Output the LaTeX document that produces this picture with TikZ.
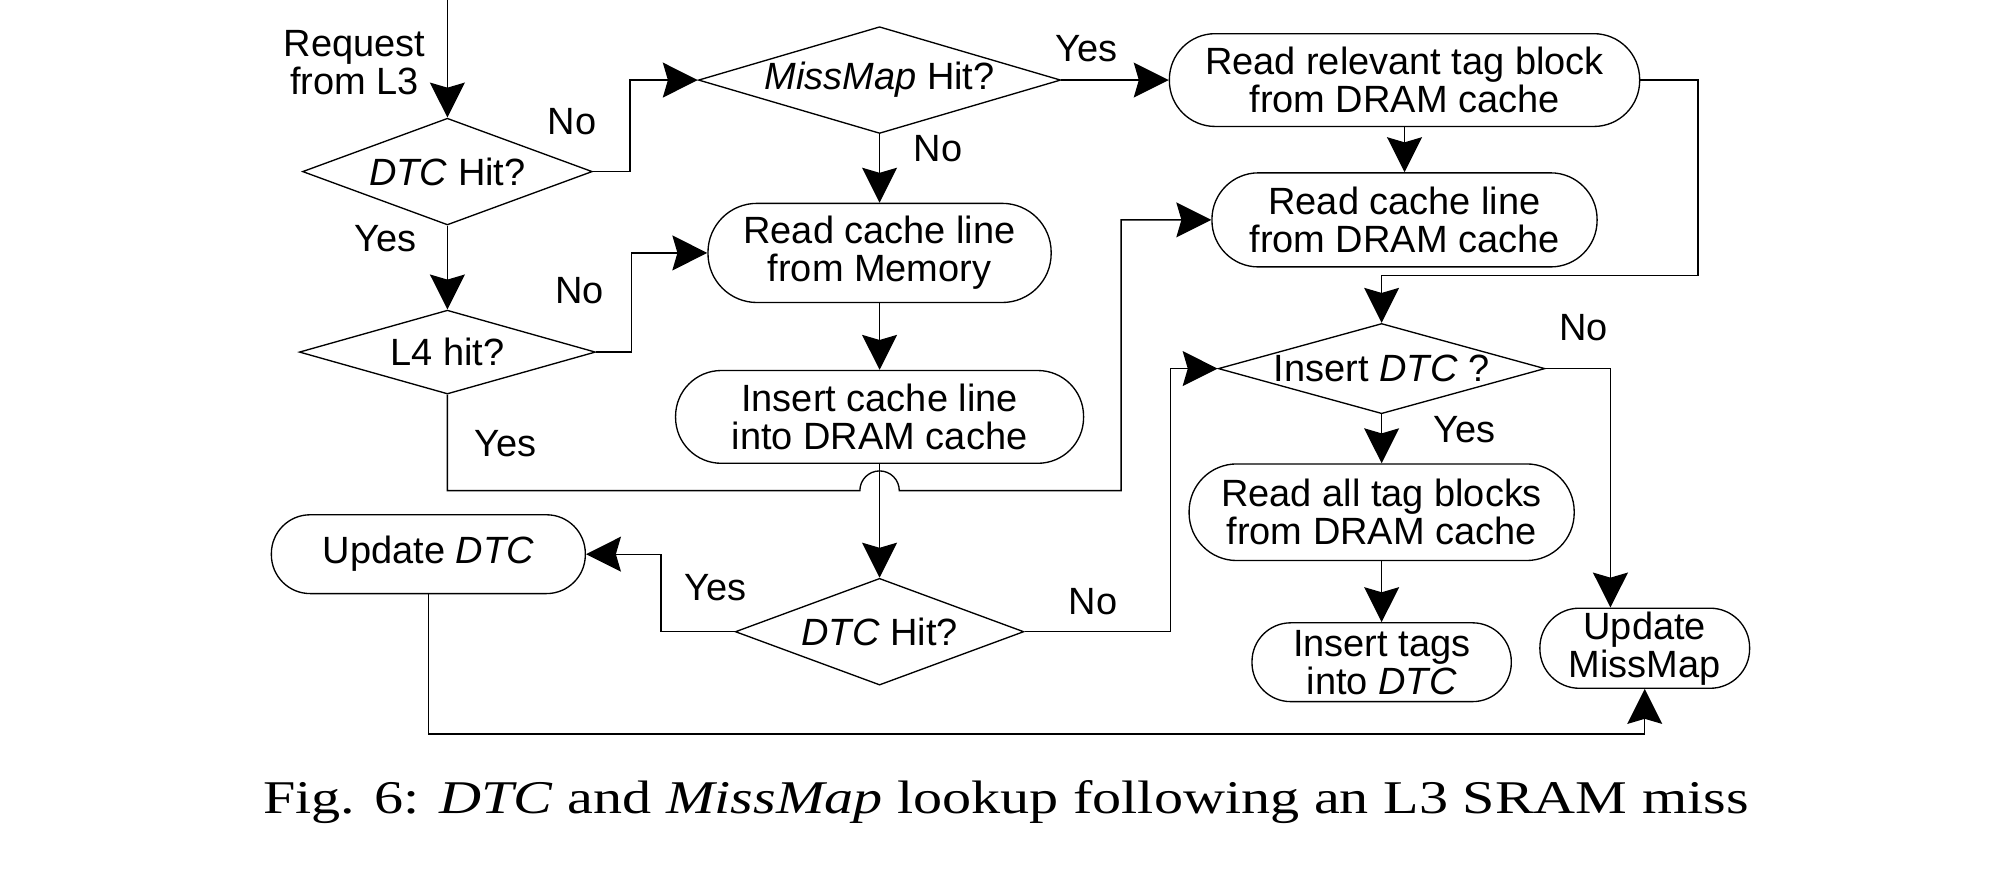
\documentclass[tikz,border=0pt]{standalone}
\usepackage{fontspec}
\setmainfont{Liberation Sans}
\newfontfamily\capfont[FakeStretch=1.24]{Liberation Serif}
\usetikzlibrary{shapes.geometric, arrows.meta, positioning, calc}

\begin{document}
\begin{tikzpicture}[
    line width=0.6pt,
    txt/.style={font=\fontsize{17}{17}\selectfont, align=center},
    process/.style={txt, rectangle, rounded corners=0.6cm, draw, inner sep=0pt},
    decision/.style={txt, diamond, draw, inner sep=-2pt},
    lbl/.style={txt, inner sep=0pt},
    flow/.style={-{Stealth[length=0.55cm, width=0.55cm, inset=0.08cm]}}
]
\useasboundingbox (0,0) rectangle (31.36,-13.66);

\node[decision, minimum width=4.56cm, minimum height=1.68cm, aspect=2.71] (dtcA) at (7.04,-2.70) {\textit{DTC} Hit?};
\node[decision, minimum width=5.70cm, minimum height=1.68cm, aspect=3.39] (mm) at (13.84,-1.26) {\textit{MissMap} Hit?};
\node[decision, minimum width=4.66cm, minimum height=1.32cm, aspect=3.53] (l4) at (7.04,-5.54) {L4 hit?};
\node[decision, minimum width=5.14cm, minimum height=1.42cm, aspect=3.62] (insDtc) at (21.74,-5.80) {Insert \textit{DTC} ?};
\node[decision, minimum width=4.54cm, minimum height=1.68cm, aspect=2.70] (dtcB) at (13.84,-9.94) {\textit{DTC} Hit?};

\node[process, rounded corners=0.72cm, minimum width=7.40cm, minimum height=1.46cm] (readTag) at (22.10,-1.26) {Read relevant tag block\\from DRAM cache};
\node[process, rounded corners=0.77cm, minimum width=5.40cm, minimum height=1.56cm] (readMem) at (13.84,-3.98) {Read cache line\\from Memory};
\node[process, rounded corners=0.72cm, minimum width=6.42cm, minimum height=1.46cm] (insLine) at (13.84,-6.56) {Insert cache line\\into DRAM cache};
\node[process, rounded corners=0.73cm, minimum width=6.06cm, minimum height=1.48cm] (readDram) at (22.10,-3.46) {Read cache line\\from DRAM cache};
\node[process, rounded corners=0.75cm, minimum width=6.06cm, minimum height=1.52cm] (readAll) at (21.74,-8.06) {Read all tag blocks\\from DRAM cache};
\node[process, rounded corners=0.61cm, minimum width=4.08cm, minimum height=1.24cm] (insTags) at (21.74,-10.42) {Insert tags\\into \textit{DTC}};
\node[process, rounded corners=0.62cm, minimum width=3.30cm, minimum height=1.26cm] (updMM) at (25.88,-10.20) {Update\\MissMap};
\node[process, rounded corners=0.61cm, minimum width=4.94cm, minimum height=1.24cm] (updDtc) at (6.74,-8.72) {Update \textit{DTC}};

\node[lbl] (req) at (5.58,-0.98) {Request\\from L3};
\coordinate (start) at (7.04,0);
\coordinate (hop) at (13.84,-7.72);
\coordinate (bend) at (17.64,-7.72);
\coordinate (tagR) at (26.72,-4.34);

\node[lbl] (noA) at (9.00,-1.92) {No};
\node[lbl] (yesMm) at (17.10,-0.76) {Yes};
\node[lbl] (noMm) at (14.76,-2.34) {No};
\node[lbl] (yesA) at (6.06,-3.76) {Yes};
\node[lbl] (noL4) at (9.12,-4.58) {No};
\node[lbl] (yesL4) at (7.96,-6.98) {Yes};
\node[lbl] (noIns) at (24.92,-5.16) {No};
\node[lbl] (yesIns) at (23.04,-6.76) {Yes};
\node[lbl] (yesB) at (11.26,-9.24) {Yes};
\node[lbl] (noB) at (17.20,-9.46) {No};

\draw[flow] (start) -- (dtcA.north);
\draw[flow] (dtcA.east) -- ++(0.58,0) |- (mm.west);
\draw[flow] (mm.east) -- (readTag.west);
\draw[flow] (mm.south) -- (readMem.north);
\draw[flow] (dtcA.south) -- (l4.north);
\draw[flow] (l4.east) -- ++(0.56,0) |- (readMem.west);
\draw[flow] (readMem.south) -- (insLine.north);
\draw[flow] (readTag.south) -- (readDram.north);
\draw[flow] (l4.south) |- ([xshift=-0.31cm]hop) arc[start angle=180, end angle=0, radius=0.31cm] -- (bend) |- (readDram.west);
\draw[flow] (readTag.east) -| (tagR) -| (insDtc.north);
\draw[flow] (insDtc.east) -| ([xshift=-0.54cm]updMM.north);
\draw[flow] (insDtc.south) -- (readAll.north);
\draw[flow] (readAll.south) -- (insTags.north);
\draw[flow] (insLine.south) -- (dtcB.north);
\draw[flow] (dtcB.west) -- ++(-1.16,0) |- (updDtc.east);
\draw[flow] (dtcB.east) -- ++(2.30,0) |- (insDtc.west);
\draw[flow] (updDtc.south) -- ++(0,-2.20) -| (updMM.south);

\node[font=\capfont\fontsize{21}{21}\selectfont, anchor=base] (cap) at (15.83,-12.80) {Fig. 6: \textit{DTC} and \textit{MissMap} lookup following an L3 SRAM miss};
\end{tikzpicture}
\end{document}
